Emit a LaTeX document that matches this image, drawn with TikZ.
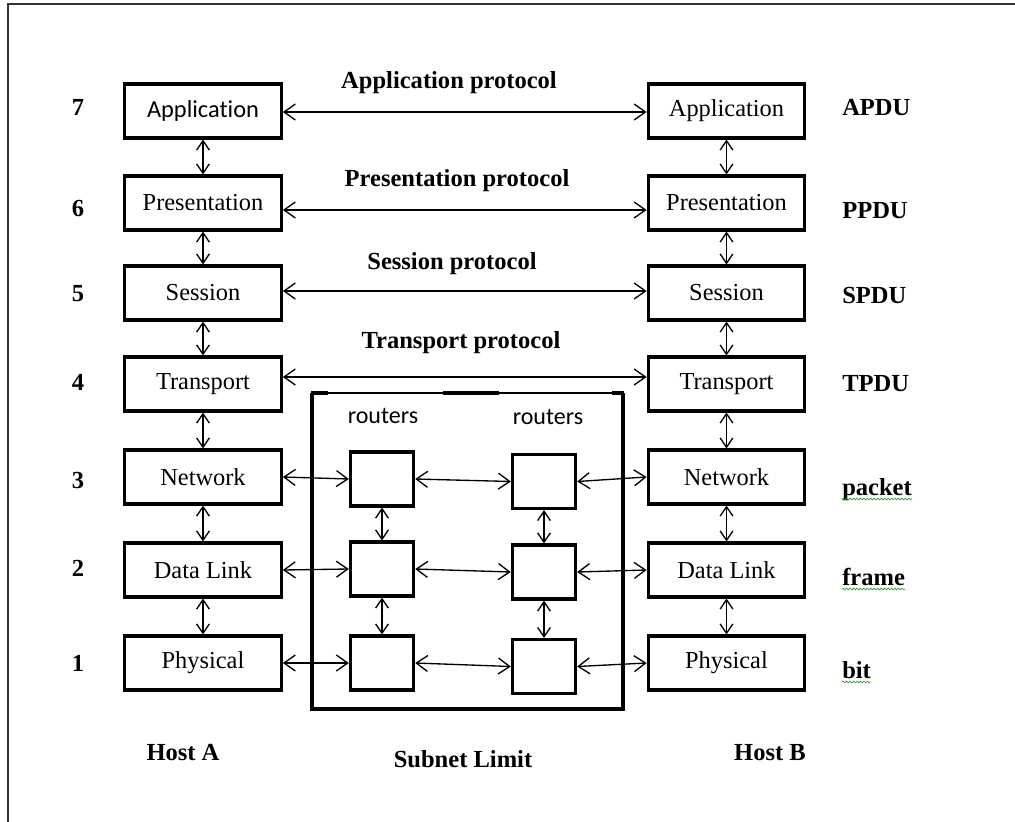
\documentclass[tikz,border=0pt]{standalone}
\usepackage{fontspec}
\setmainfont{Liberation Serif}
\newfontfamily\calibrifont[Ligatures=NoCommon]{Carlito}
\usetikzlibrary{arrows.meta,decorations.pathmorphing}

\begin{document}
\begin{tikzpicture}[x=0.75pt,y=-0.75pt,
  layer/.style={draw, line width=2.3pt, minimum width=117.5pt, minimum height=40.5pt,
    inner sep=0pt, font=\fontsize{18.3}{21}\selectfont},
  router/.style={draw, line width=2.3pt, minimum width=47.5pt, minimum height=40.5pt, inner sep=0pt},
  hlink/.style={line width=1pt,
    {Straight Barb[length=8.5pt,width=12pt]}-{Straight Barb[length=8.5pt,width=12pt]}},
  vlink/.style={line width=1pt,
    {Straight Barb[length=7pt,width=9.5pt]}-{Straight Barb[length=7pt,width=9.5pt]}},
  bold/.style={font=\bfseries\fontsize{18.4}{22}\selectfont, anchor=base, inner sep=0pt},
  pdu/.style={bold, anchor=base west},
  sanslbl/.style={font=\calibrifont\fontsize{18}{21}\selectfont, anchor=base, inner sep=0pt},
  squig/.style={draw=green!50!black!80, line width=0.5pt, decorate,
    decoration={snake, amplitude=0.7pt, segment length=2.6pt}}]

\useasboundingbox (0,0) rectangle (1015,822);

% outer frame (top and left edges only)
\draw[line width=1.5pt, black!80] (7,4) -- (1015,4);
\draw[line width=1.5pt, black!80] (8,4) -- (8,822);

% Host A stack
\node[layer] (LA7) at (203,111) {\calibrifont Application};
\node[layer] (LA6) at (203,203) {Presentation};
\node[layer] (LA5) at (203,293) {Session};
\node[layer] (LA4) at (203,384) {Transport};
\node[layer] (LA3) at (203,477) {Network};
\node[layer] (LA2) at (203,570) {Data Link};
\node[layer] (LA1) at (203,663) {Physical};

% Host B stack
\node[layer] (LB7) at (726.5,111) {Application};
\node[layer] (LB6) at (726.5,203) {Presentation};
\node[layer] (LB5) at (726.5,293) {Session};
\node[layer] (LB4) at (726.5,384) {Transport};
\node[layer] (LB3) at (726.5,477) {Network};
\node[layer] (LB2) at (726.5,570) {Data Link};
\node[layer] (LB1) at (726.5,663) {Physical};

% subnet boundary
\draw[line width=2.3pt] (312,393) -- (312,709) -- (623,709) -- (623,393);
\draw[line width=1.5pt] (312,393) -- (623,393);
\draw[line width=2.6pt] (311,393) -- (328,393);
\draw[line width=2.6pt] (443,393) -- (499,393);
\draw[line width=2.6pt] (612,393) -- (624,393);

% routers
\node[router] (RA3) at (382,479) {};
\node[router] (RA2) at (382,569) {};
\node[router] (RA1) at (382,663) {};
\node[router] (RB3) at (544,481.5) {};
\node[router] (RB2) at (544,572) {};
\node[router] (RB1) at (544,666.5) {};
\node[sanslbl] (rtA) at (383,423) {routers};
\node[sanslbl] (rtB) at (548,424) {routers};

% peer protocols
\draw[hlink] ([yshift=-0.75pt]LA7.east) -- ([yshift=-0.75pt]LB7.west);
\draw[hlink] ([yshift=-5.25pt]LA6.east) -- ([yshift=-5.25pt]LB6.west);
\draw[hlink] ([yshift=1.5pt]LA5.east) -- ([yshift=1.5pt]LB5.west);
\draw[hlink] ([yshift=5.25pt]LA4.east) -- ([yshift=5.25pt]LB4.west);

% host to router and router to router links
\draw[hlink] (LA3.east) -- (RA3.west);
\draw[hlink] (RA3.east) -- (RB3.west);
\draw[hlink] (RB3.east) -- (LB3.west);
\draw[hlink] (LA2.east) -- (RA2.west);
\draw[hlink] (RA2.east) -- (RB2.west);
\draw[hlink] (RB2.east) -- (LB2.west);
\draw[hlink] (LA1.east) -- (RA1.west);
\draw[hlink] (RA1.east) -- (RB1.west);
\draw[hlink] (RB1.east) -- (LB1.west);

% vertical links inside each stack
\foreach \s in {A,B}{
  \draw[vlink] (L\s7.south) -- (L\s6.north);
  \draw[vlink] (L\s6.south) -- (L\s5.north);
  \draw[vlink] (L\s5.south) -- (L\s4.north);
  \draw[vlink] (L\s4.south) -- (L\s3.north);
  \draw[vlink] (L\s3.south) -- (L\s2.north);
  \draw[vlink] (L\s2.south) -- (L\s1.north);
  \draw[vlink] (R\s3.south) -- (R\s2.north);
  \draw[vlink] (R\s2.south) -- (R\s1.north);
}

% protocol names
\node[bold] (pr7) at (449,88) {Application protocol};
\node[bold] (pr6) at (457,186) {Presentation protocol};
\node[bold] (pr5) at (452,269) {Session protocol};
\node[bold] (pr4) at (461,348) {Transport protocol};

% layer numbers
\node[bold] (n7) at (78,115) {7};
\node[bold] (n6) at (78,216) {6};
\node[bold] (n5) at (78,301) {5};
\node[bold] (n4) at (78,390) {4};
\node[bold] (n3) at (78,488) {3};
\node[bold] (n2) at (78,576) {2};
\node[bold] (n1) at (78,671) {1};

% data units
\node[pdu] (u7) at (842,115) {APDU};
\node[pdu] (u6) at (842,218) {PPDU};
\node[pdu] (u5) at (842,303) {SPDU};
\node[pdu] (u4) at (842,391) {TPDU};
\node[pdu] (u3) at (842,495) {packet};
\node[pdu] (u2) at (842,585) {frame};
\node[pdu] (u1) at (842,678) {bit};
\draw[squig] ([yshift=-3pt]u3.base west) -- ([yshift=-3pt]u3.base east);
\draw[squig] ([yshift=-3pt]u2.base west) -- ([yshift=-3pt]u2.base east);
\draw[squig] ([yshift=-3pt]u1.base west) -- ([yshift=-3pt]u1.base east);

% bottom captions
\node[bold] (hA) at (183,760) {Host A};
\node[bold] (sub) at (463,767) {Subnet Limit};
\node[bold] (hB) at (770,760) {Host B};

\end{tikzpicture}
\end{document}
